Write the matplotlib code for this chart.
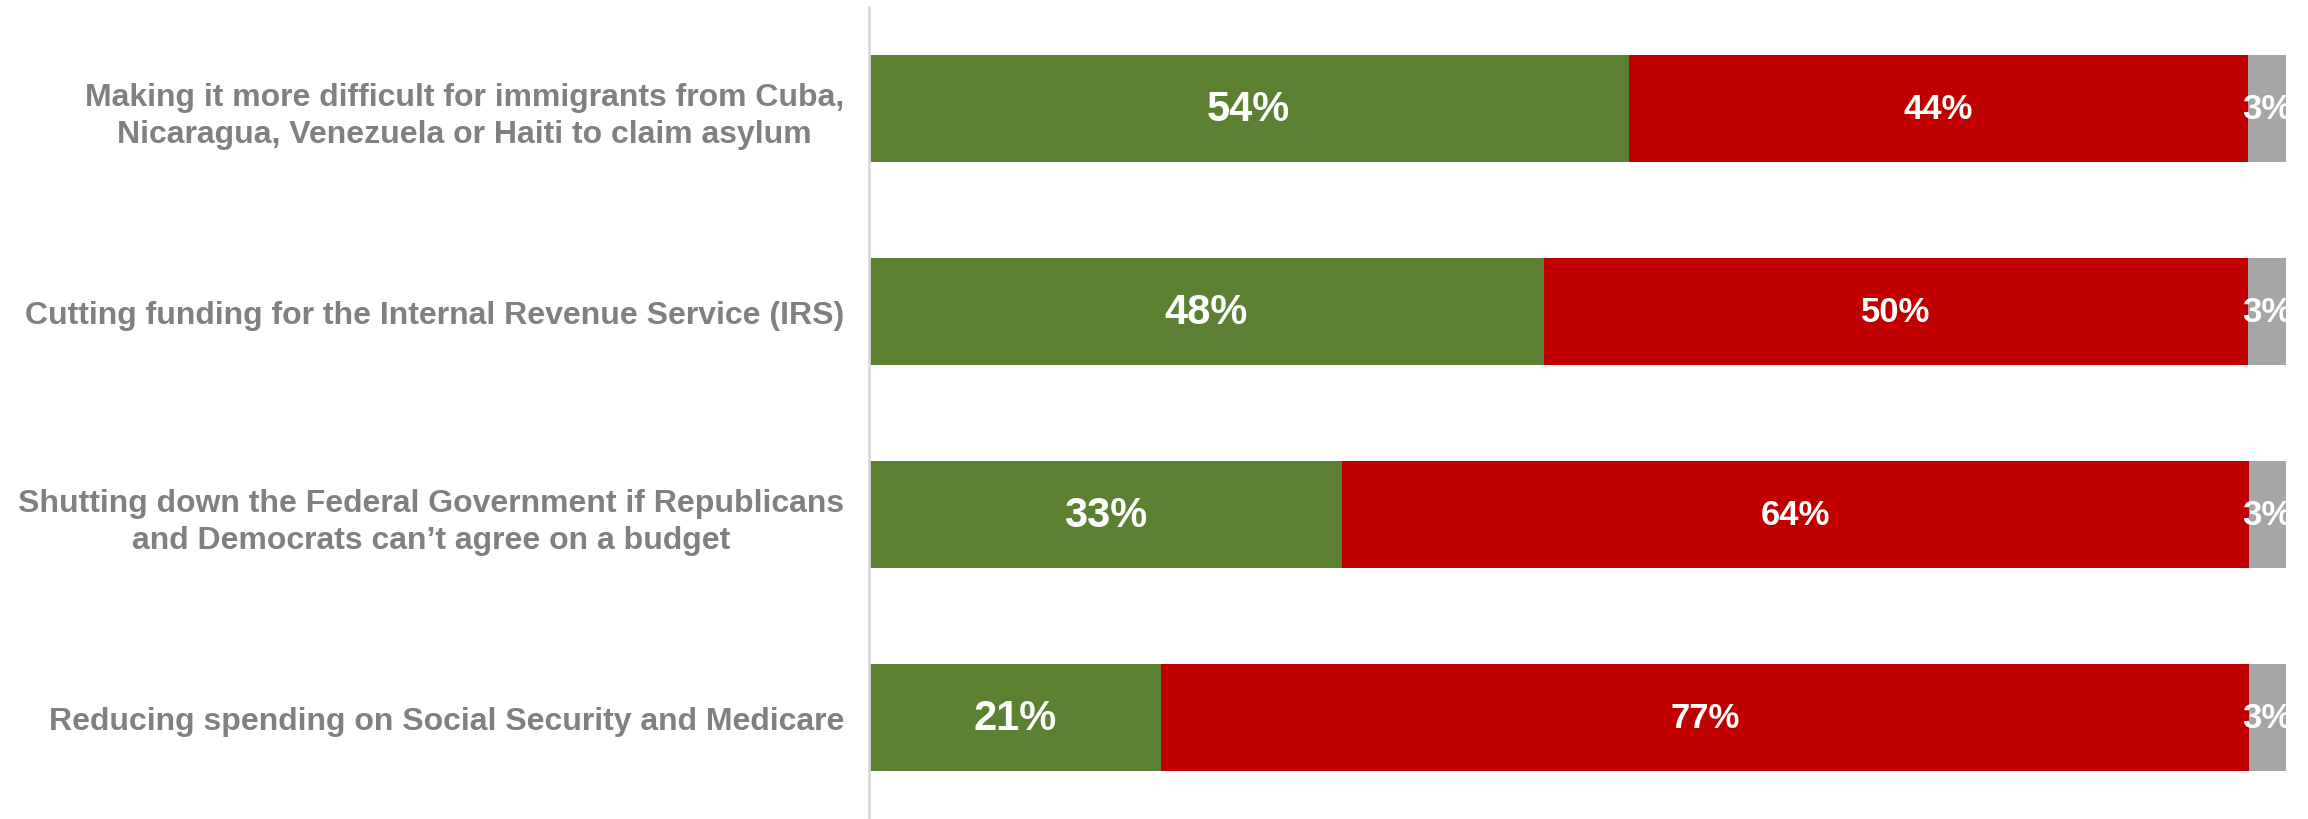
import matplotlib.pyplot as plt

plt.rcParams['font.family'] = ['Liberation Sans', 'DejaVu Sans']

## DATA
categories = [
    'Making it more difficult for immigrants from Cuba,\nNicaragua, Venezuela or Haiti to claim asylum',
    'Cutting funding for the Internal Revenue Service (IRS)',
    'Shutting down the Federal Government if Republicans\nand Democrats can\u2019t agree on a budget',
    'Reducing spending on Social Security and Medicare',
]
support = [53.6, 47.6, 33.4, 20.6]
oppose = [43.7, 49.7, 64.0, 76.8]
unsure = [2.7, 2.7, 2.6, 2.6]
support_labels = ['54%', '48%', '33%', '21%']
oppose_labels = ['44%', '50%', '64%', '77%']
unsure_labels = ['3%', '3%', '3%', '3%']

GREEN = '#5B8031'
RED = '#C00000'
GREY = '#A6A6A6'
TEXT_GREY = '#808080'

## PLOT
fig = plt.figure(figsize=(23.08, 8.2), dpi=100)
ax = fig.add_axes([0.3765, 0.0, 0.614, 0.990])

rows = list(range(len(categories)))
bar_h = 0.53
ax.barh(rows, support, height=bar_h, color=GREEN)
left2 = [s for s in support]
ax.barh(rows, oppose, left=left2, height=bar_h, color=RED)
left3 = [s + o for s, o in zip(support, oppose)]
ax.barh(rows, unsure, left=left3, height=bar_h, color=GREY)

for i in rows:
    ax.text(support[i] / 2, i, support_labels[i], ha='center', va='center',
            color='white', fontsize=30, fontweight='bold')
    ax.text(support[i] + oppose[i] / 2, i, oppose_labels[i], ha='center', va='center',
            color='white', fontsize=25, fontweight='bold')
    ax.text(left3[i] + unsure[i] / 2, i, unsure_labels[i], ha='center', va='center',
            color='white', fontsize=25, fontweight='bold')

ax.set_xlim(0, 100)
ax.set_ylim(3.5, -0.5)
ax.set_yticks(rows)
ax.set_yticklabels(categories, fontsize=23, fontweight='bold', color=TEXT_GREY,
                   multialignment='center', linespacing=1.3)
ax.tick_params(axis='y', length=0, pad=18)
ax.set_xticks([])

for side in ['top', 'right', 'bottom']:
    ax.spines[side].set_visible(False)
ax.spines['left'].set_color('#D9D9D9')
ax.spines['left'].set_linewidth(2)

fig.savefig('out.png', dpi=100)
